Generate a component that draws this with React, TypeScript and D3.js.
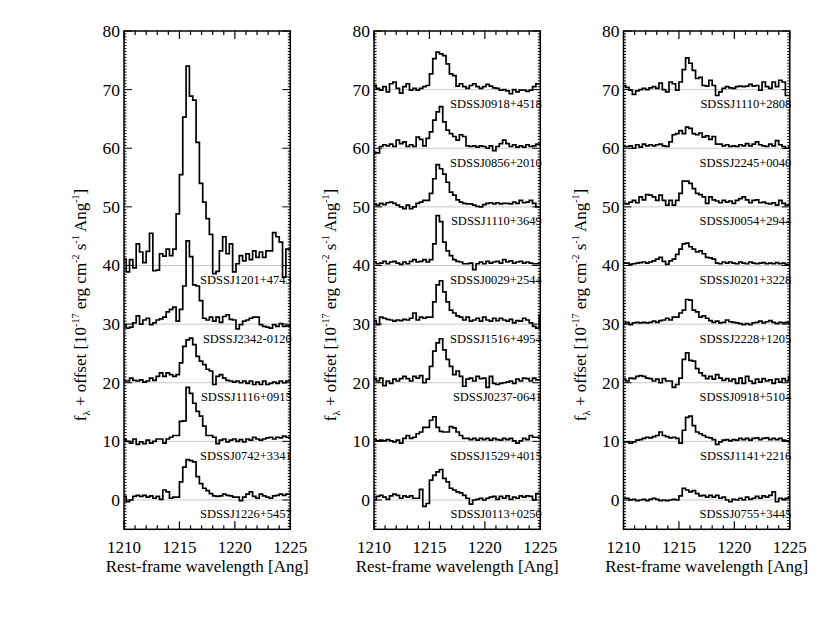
import React from "react";
import * as d3 from "d3";

// wavelength pixel grid (rest frame, Angstrom)
const binStart = 1209.9;
const binWidth = 0.3;
const nBins = 51;

const xMajorTicks = [1210, 1215, 1220, 1225];
const yMajorTicks = [0, 10, 20, 30, 40, 50, 60, 70, 80];

// ---- panel 1 ----
const panel1Names = ["SDSSJ1201+4743", "SDSSJ2342-0120", "SDSSJ1116+0915", "SDSSJ0742+3341", "SDSSJ1226+5457"];
const panel1Offsets = [40, 30, 20, 10, 0];
const fluxJ1201 = [1.1,-1.1,1.0,-0.4,3.7,2.3,0.5,2.4,5.5,-0.9,-0.8,2.0,1.6,2.8,1.7,2.8,8.8,15.5,25.3,34.0,28.9,28.2,21.0,14.0,10.8,8.0,5.3,-1.4,-1.0,2.5,4.9,2.0,3.7,-1.1,0.3,1.7,0.8,2.0,1.0,2.5,1.4,2.3,1.4,2.5,2.5,5.6,4.9,4.0,-2.0,2.8,2.8];
const fluxJ2342 = [-0.1,-0.7,-0.5,0.2,1.4,0.0,0.7,1.0,-0.1,0.2,0.7,0.9,1.2,2.1,2.5,2.9,0.5,2.5,6.5,14.2,11.5,6.7,6.5,4.0,1.0,0.7,1.2,0.5,1.2,0.3,1.3,1.6,0.8,0.7,-0.8,-0.1,0.5,0.7,1.0,1.2,1.2,-0.1,-0.4,-0.5,-0.7,-0.1,-0.4,0.1,-0.4,-0.3,-0.3];
const fluxJ1116 = [0.3,0.3,0.8,0.4,0.3,0.5,0.1,0.3,0.8,0.4,1.1,1.7,1.1,1.7,1.4,1.1,1.4,3.4,6.2,7.3,7.6,6.5,4.5,3.7,3.1,2.3,2.0,-0.3,1.1,1.4,0.8,0.4,0.3,0.1,0.3,0.0,0.3,-0.1,0.3,-0.3,0.1,-0.3,0.3,-0.3,-0.1,0.1,-0.1,0.3,0.0,0.3,0.3];
const fluxJ0742 = [0.3,0.0,-0.3,0.4,-0.5,-0.1,-0.4,0.2,-0.3,0.0,0.4,0.4,-0.3,0.4,0.7,1.0,1.0,3.4,3.5,9.2,8.2,6.5,5.1,4.3,2.6,1.0,1.0,0.7,-0.4,0.2,0.4,-0.1,0.2,0.4,0.0,0.3,-0.1,0.4,0.2,0.7,0.4,0.2,0.4,0.6,0.7,0.4,0.7,0.6,0.9,0.7,0.7];
const fluxJ1226 = [0.6,-0.3,0.0,0.6,0.8,0.6,0.8,0.5,0.7,0.3,0.6,0.1,1.7,1.4,0.3,0.5,0.5,3.1,5.6,6.9,6.7,6.5,4.0,2.8,2.0,1.6,1.1,0.7,0.6,0.7,1.0,0.8,0.7,0.5,0.5,-0.1,0.5,1.0,1.4,0.6,0.3,1.0,0.7,0.5,0.3,0.7,0.8,1.0,0.8,1.0,1.0];

// ---- panel 2 ----
const panel2Names = ["SDSSJ0918+4518", "SDSSJ0856+2010", "SDSSJ1110+3649", "SDSSJ0029+2544", "SDSSJ1516+4954", "SDSSJ0237-0641", "SDSSJ1529+4015", "SDSSJ0113+0250"];
const panel2Offsets = [70, 60, 50, 40, 30, 20, 10, 0];
const fluxJ0918a = [0.7,0.2,-0.1,0.5,-0.4,1.0,1.3,0.2,-0.6,0.5,1.0,-0.1,0.2,-0.1,0.2,0.5,0.7,2.7,5.3,6.4,6.1,5.8,4.4,2.7,2.4,0.6,1.0,0.5,0.2,0.7,1.0,0.5,0.2,0.5,0.9,0.6,0.3,0.2,-0.1,0.0,-0.2,-0.7,0.0,-0.4,-0.1,-0.1,-0.3,-0.1,0.5,1.0,1.0];
const fluxJ0856 = [-0.8,-0.8,0.3,0.6,0.4,0.7,0.3,1.4,0.8,1.1,0.3,0.6,0.3,1.9,1.5,0.4,1.7,2.8,4.8,6.2,7.1,4.5,3.1,2.5,2.0,1.4,2.3,2.0,0.4,0.3,0.4,0.2,0.4,0.3,0.0,0.4,-0.4,0.3,0.8,1.4,0.8,0.3,0.6,0.2,0.4,0.2,0.6,0.3,0.4,0.7,0.7];
const fluxJ1110a = [0.5,0.3,0.6,0.4,0.7,0.8,0.6,0.3,0.0,-0.3,0.3,-0.3,0.0,0.6,0.8,1.1,1.1,2.3,4.8,7.2,6.5,5.6,4.2,2.5,2.0,1.2,0.8,0.6,0.5,0.5,0.3,0.1,0.0,0.4,0.6,0.7,0.5,0.7,0.5,0.6,0.6,0.5,0.8,0.6,1.1,0.7,0.8,1.1,0.6,0.0,0.0];
const fluxJ0029 = [0.6,0.3,0.4,0.7,0.3,0.6,0.7,0.4,0.2,0.6,0.3,0.7,1.0,0.6,0.7,1.0,0.6,1.0,3.7,8.5,7.5,4.0,2.5,1.7,1.0,0.7,0.6,0.3,0.3,0.4,-0.7,0.3,0.6,0.3,0.7,0.4,0.6,0.7,0.4,1.0,0.6,0.8,0.4,0.6,0.7,0.4,0.6,0.4,0.3,0.3,0.3];
const fluxJ1516 = [0.6,-0.1,1.2,1.0,0.8,0.7,0.5,0.7,0.6,0.8,0.7,1.0,1.9,0.7,1.2,1.0,1.2,1.2,3.8,6.7,7.4,5.5,3.8,2.4,1.9,1.4,1.2,0.7,1.2,0.5,0.7,1.0,0.5,1.2,0.7,0.5,1.0,0.6,1.0,0.7,0.5,0.8,0.2,0.6,0.5,1.0,0.7,0.2,-0.4,-0.7,1.6];
const fluxJ0237 = [0.7,0.3,0.8,-0.5,0.3,-0.1,0.6,0.3,0.7,1.1,0.7,0.3,1.1,0.8,1.2,0.0,0.6,2.8,5.4,6.8,7.5,5.6,4.0,2.8,1.4,2.0,1.1,-0.6,0.6,0.8,0.3,1.1,0.7,0.8,-0.8,1.1,-0.1,-0.3,-0.1,0.0,0.1,0.3,-0.1,0.6,0.3,0.8,0.7,0.3,0.8,0.5,0.5];
const fluxJ1529 = [0.3,0.1,0.2,0.1,0.3,0.1,-0.1,0.2,-0.3,0.5,1.0,0.5,0.7,1.3,1.6,2.4,2.4,3.6,4.2,2.4,1.7,1.6,1.6,2.5,2.3,1.6,1.0,0.5,0.5,0.3,0.5,0.2,0.5,0.3,0.5,0.2,0.5,0.3,0.2,0.5,0.3,0.5,0.1,-0.3,0.1,0.5,0.3,1.0,0.7,0.7,0.7];
const fluxJ0113 = [0.0,0.6,0.8,0.5,0.1,0.7,1.0,0.8,0.3,0.7,0.5,0.7,0.3,0.3,1.8,-1.1,-0.6,3.4,4.2,4.8,5.2,3.7,3.1,2.0,1.7,1.4,1.2,0.8,0.3,-0.7,0.0,0.1,0.3,0.0,0.3,0.5,0.6,0.1,0.6,0.3,0.7,0.1,0.5,0.3,0.7,0.5,0.7,0.6,0.0,1.1,1.1];

// ---- panel 3 ----
const panel3Names = ["SDSSJ1110+2808", "SDSSJ2245+0040", "SDSSJ0054+2944", "SDSSJ0201+3228", "SDSSJ2228+1205", "SDSSJ0918+5104", "SDSSJ1141+2216", "SDSSJ0755+3445"];
const panel3Offsets = [70, 60, 50, 40, 30, 20, 10, 0];
const fluxJ1110b = [0.7,0.4,-0.1,-0.8,-0.2,0.0,0.2,0.0,0.3,0.5,0.2,1.1,0.0,-0.4,1.3,1.0,-0.1,1.3,3.4,5.4,4.5,3.3,1.9,2.1,0.7,0.6,1.6,0.7,-1.0,-0.4,0.2,0.5,0.3,0.2,0.5,0.6,0.5,0.6,0.9,0.6,0.7,-0.1,1.3,0.5,0.2,1.3,0.5,1.6,1.3,-1.0,-1.0];
const fluxJ2245 = [0.3,0.3,0.4,0.0,0.6,0.2,0.7,0.4,0.6,0.4,0.6,0.7,0.4,0.3,1.1,2.3,2.5,3.0,2.5,3.6,3.4,2.5,2.3,2.6,1.9,2.1,1.5,2.0,0.7,0.7,0.4,0.6,0.3,0.4,0.3,0.6,0.4,0.8,0.4,0.7,1.1,0.6,0.4,0.3,0.7,0.4,1.3,0.6,0.3,0.0,0.2];
const fluxJ0054 = [0.6,0.5,0.8,1.1,0.7,1.7,1.2,2.1,2.0,1.7,1.1,2.0,1.1,0.3,1.1,0.3,1.1,2.3,4.4,4.4,4.0,3.1,2.3,2.1,1.7,0.6,1.7,1.2,1.0,0.7,1.1,0.8,1.0,0.6,1.1,1.4,1.7,1.2,0.7,1.1,1.2,0.7,0.8,0.6,0.5,0.7,0.3,1.1,0.6,0.3,0.3];
const fluxJ0201 = [0.4,0.4,0.2,0.3,0.4,0.5,0.6,0.4,0.6,0.8,1.1,1.4,0.7,0.2,0.8,1.1,1.9,2.8,3.7,3.8,3.2,2.8,2.3,2.5,2.0,1.4,1.3,1.1,0.4,0.3,0.6,0.4,0.6,0.4,0.3,0.6,0.4,0.3,0.6,0.4,0.3,0.4,0.5,0.3,0.4,0.3,0.5,0.3,0.4,0.2,0.0];
const fluxJ2228 = [0.1,0.3,-0.1,0.2,0.3,0.2,0.3,0.2,0.3,0.5,0.3,0.6,0.7,1.0,0.7,1.2,1.2,1.9,2.4,4.2,4.1,2.4,2.1,1.2,1.4,1.0,0.6,0.3,0.5,0.2,0.3,0.7,0.4,0.3,0.2,0.1,-0.1,0.1,-0.1,0.2,0.3,0.5,0.2,0.4,0.6,0.3,0.1,0.3,0.2,0.3,0.1];
const fluxJ0918b = [0.6,0.3,0.8,0.7,1.1,1.2,1.1,0.8,0.7,0.3,0.6,0.0,0.7,0.3,0.3,-0.8,-0.3,0.8,4.0,5.1,3.8,3.7,2.4,1.7,1.2,0.7,1.1,0.6,1.4,0.8,0.4,0.7,0.3,0.6,-0.1,0.8,-0.1,1.1,0.3,-0.1,0.6,0.1,0.7,0.3,0.5,-0.1,0.6,0.1,0.7,0.3,1.1];
const fluxJ1141 = [-0.1,-0.1,-0.3,-0.1,0.2,0.3,0.5,0.7,0.6,0.8,1.0,1.6,1.0,0.8,0.6,0.7,0.5,-0.3,1.9,4.1,4.3,2.7,1.6,1.3,1.0,0.7,0.6,0.3,-0.5,-0.1,0.2,0.3,0.1,0.3,0.2,0.5,0.3,0.5,0.2,0.5,0.6,0.3,0.5,0.6,0.3,0.5,0.3,0.5,0.2,0.1,-0.1];
const fluxJ0755 = [0.3,0.3,0.0,0.1,-0.1,0.0,0.1,-0.1,0.1,0.3,0.1,-0.1,0.0,-0.1,0.0,0.1,0.0,0.7,2.0,1.7,1.4,1.6,1.1,0.7,0.8,0.5,0.8,0.5,0.8,0.3,0.5,0.0,-0.3,0.1,0.0,0.3,0.0,0.5,0.1,0.3,0.6,0.3,0.7,0.5,0.8,1.4,-0.3,0.3,0.1,0.3,0.5];

const panels = [
  { names: panel1Names, offsets: panel1Offsets, fluxes: [fluxJ1201, fluxJ2342, fluxJ1116, fluxJ0742, fluxJ1226] },
  { names: panel2Names, offsets: panel2Offsets, fluxes: [fluxJ0918a, fluxJ0856, fluxJ1110a, fluxJ0029, fluxJ1516, fluxJ0237, fluxJ1529, fluxJ0113] },
  { names: panel3Names, offsets: panel3Offsets, fluxes: [fluxJ1110b, fluxJ2245, fluxJ0054, fluxJ0201, fluxJ2228, fluxJ0918b, fluxJ1141, fluxJ0755] },
];

const FONT = "'Liberation Serif', 'Times New Roman', Times, serif";

export default function App() {
  const W = 830, H = 624;
  const lefts = [124, 374, 623.5];
  const pw = 166.3;
  const top = 31, bottom = 529.3;
  const y = d3.scaleLinear().domain([-5, 80]).range([bottom, top]);
  const edges = d3.range(nBins + 1).map((i) => binStart + binWidth * i);
  const xMinor = d3.range(1210, 1226, 1);
  const yMinor = d3.range(-5, 80.01, 0.5);

  return (
    <svg width={W} height={H} style={{ position: "absolute", left: 0, top: 0, background: "#fff" }} fontFamily={FONT}>
      <rect x={0} y={0} width={W} height={H} fill="#fff" />
      <defs>
        {lefts.map((L, pi) => (
          <clipPath id={`clip${pi}`} key={pi}>
            <rect x={L} y={top} width={pw} height={bottom - top} />
          </clipPath>
        ))}
      </defs>
      {panels.map((p, pi) => {
        const L = lefts[pi];
        const R = L + pw;
        const x = d3.scaleLinear().domain([1210, 1225]).range([L, R]);
        const line = d3
          .line<[number, number]>()
          .x((d) => x(d[0]))
          .y((d) => y(d[1]))
          .curve(d3.curveStepAfter);
        return (
          <g key={pi}>
            {p.offsets.map((o, k) => (
              <line key={`g${k}`} x1={L} x2={R} y1={y(o)} y2={y(o)} stroke="#c8c8c8" strokeWidth={1} />
            ))}
            <g clipPath={`url(#clip${pi})`}>
              {p.fluxes.map((f, k) => {
                const pts: [number, number][] = f.map((v, i) => [edges[i], v + p.offsets[k]] as [number, number]);
                pts.push([edges[nBins], f[f.length - 1] + p.offsets[k]]);
                return <path key={`s${k}`} d={line(pts) || ""} fill="none" stroke="#000" strokeWidth={1.7} strokeLinejoin="miter" />;
              })}
            </g>
            {p.names.map((n, k) => (
              <text key={`n${k}`} x={R + 1.5} y={y(p.offsets[k]) + 18.5} fontSize={12.5} textAnchor="end" fill="#000">
                {n}
              </text>
            ))}
            {/* frame */}
            <rect x={L} y={top} width={pw} height={bottom - top} fill="none" stroke="#000" strokeWidth={1.5} />
            {/* x ticks */}
            {xMinor.map((t) => {
              const major = xMajorTicks.includes(t);
              const len = major ? 8 : 4;
              return (
                <g key={`xt${t}`}>
                  <line x1={x(t)} x2={x(t)} y1={bottom} y2={bottom - len} stroke="#000" strokeWidth={1.2} />
                  <line x1={x(t)} x2={x(t)} y1={top} y2={top + len} stroke="#000" strokeWidth={1.2} />
                </g>
              );
            })}
            {/* y ticks */}
            {yMinor.map((t) => {
              const major = Math.abs(t % 10) < 1e-6;
              const len = major ? 8 : 2.5;
              return (
                <g key={`yt${t}`}>
                  <line x1={L} x2={L + len} y1={y(t)} y2={y(t)} stroke="#000" strokeWidth={1} />
                  <line x1={R} x2={R - len} y1={y(t)} y2={y(t)} stroke="#000" strokeWidth={1} />
                </g>
              );
            })}
            {yMajorTicks.map((t) => (
              <text key={`yl${t}`} x={L - 4} y={y(t) + 6} fontSize={17.5} textAnchor="end" fill="#000">
                {t}
              </text>
            ))}
            {xMajorTicks.map((t) => (
              <text key={`xl${t}`} x={x(t)} y={552.5} fontSize={17} textAnchor="middle" fill="#000">
                {t}
              </text>
            ))}
            <text x={(L + R) / 2} y={571.5} fontSize={17} textAnchor="middle" fill="#000">
              Rest-frame wavelength [Ang]
            </text>
            <text transform={`translate(${L - 38},305) rotate(-90)`} fontSize={17} textAnchor="middle" fill="#000">
              f<tspan dy={4} fontSize={11}>λ</tspan>
              <tspan dy={-4}> + offset [10</tspan>
              <tspan dy={-7} fontSize={10}>-17</tspan>
              <tspan dy={7}> erg cm</tspan>
              <tspan dy={-7} fontSize={10}>-2</tspan>
              <tspan dy={7}> s</tspan>
              <tspan dy={-7} fontSize={10}>-1</tspan>
              <tspan dy={7}> Ang</tspan>
              <tspan dy={-7} fontSize={10}>-1</tspan>
              <tspan dy={7}>]</tspan>
            </text>
          </g>
        );
      })}
    </svg>
  );
}
